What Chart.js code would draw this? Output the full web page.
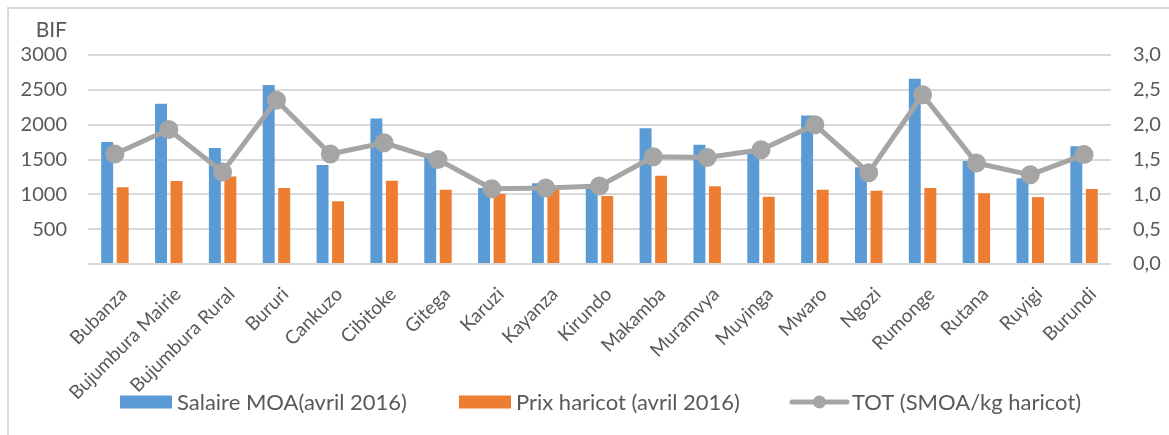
<!DOCTYPE html>
<html>
<head>
<meta charset="utf-8">
<script src="https://cdn.jsdelivr.net/npm/chart.js"></script>
<style>
  html, body { margin: 0; padding: 0; background: #fff; }
  #wrap { position: relative; width: 1169px; height: 435px; }
  #frame { position: absolute; left: 7px; top: 7px; right: 0; bottom: 0;
           border-left: 2px solid #d9d9d9; border-top: 2px solid #d9d9d9; }
  canvas { position: absolute; left: 0; top: 0; }
</style>
</head>
<body>
<div id="wrap">
  <div id="frame"></div>
  <canvas id="chart" width="1169" height="435"></canvas>
</div>
<script>
// Provinces du Burundi + moyenne nationale
const provinces = ['Bubanza', 'Bujumbura Mairie', 'Bujumbura Rural', 'Bururi', 'Cankuzo', 'Cibitoke',
    'Gitega', 'Karuzi', 'Kayanza', 'Kirundo', 'Makamba', 'Muramvya', 'Muyinga', 'Mwaro', 'Ngozi',
    'Rumonge', 'Rutana', 'Ruyigi', 'Burundi'];

// Salaire journalier main d'oeuvre agricole (BIF)
const salaireMOA = [1750, 2300, 1665, 2570, 1420, 2090, 1585, 1090, 1160, 1100, 1950, 1710, 1590, 2130, 1390, 2660, 1480, 1230, 1690];

// Prix du kg de haricot (BIF)
const prixHaricot = [1100, 1190, 1255, 1090, 900, 1195, 1065, 1005, 1065, 975, 1265, 1115, 965, 1065, 1050, 1090, 1015, 960, 1075];

// Termes de l'echange: kg de haricot par journee de travail
const termesEchange = [1.58, 1.93, 1.32, 2.35, 1.58, 1.74, 1.50, 1.08, 1.09, 1.12, 1.54, 1.53, 1.64, 2.00, 1.31, 2.43, 1.45, 1.28, 1.57];

const leftTicks = [0, 500, 1000, 1500, 2000, 2500, 3000];
const rightTicks = [0, 0.5, 1, 1.5, 2, 2.5, 3];
const unitLabel = 'BIF';

const textColor = '#595959';
const gridColor = '#d9d9d9';

Chart.defaults.font.family = 'Lato, "Open Sans", sans-serif';
Chart.defaults.color = textColor;

// unite + legende dessinees a la main (style Excel)
const extras = {
    id: 'extras',
    afterDraw(chart) {
        const ctx = chart.ctx;
        const yScale = chart.scales.y;
        ctx.save();
        ctx.font = '21px Lato';
        ctx.fillStyle = textColor;
        ctx.textAlign = 'right';
        ctx.textBaseline = 'middle';
        ctx.fillText(unitLabel, yScale.right - 21, 30);

        let x = 120;
        const cy = 402;
        ctx.font = '22px Lato';
        ctx.textAlign = 'left';
        chart.data.datasets.forEach(ds => {
            if (ds.type === 'line') {
                ctx.strokeStyle = ds.borderColor;
                ctx.lineWidth = 5;
                ctx.lineCap = 'round';
                ctx.beginPath();
                ctx.moveTo(x, cy);
                ctx.lineTo(x + 55, cy);
                ctx.stroke();
                ctx.fillStyle = ds.pointBackgroundColor;
                ctx.beginPath();
                ctx.arc(x + 27.5, cy, 6.5, 0, Math.PI * 2);
                ctx.fill();
                x += 55;
            } else {
                ctx.fillStyle = ds.backgroundColor;
                ctx.fillRect(x, cy - 6.5, 52, 13);
                x += 52;
            }
            x += 5;
            ctx.fillStyle = textColor;
            ctx.fillText(ds.label, x, cy + 1);
            x += ctx.measureText(ds.label).width + 52;
        });
        ctx.restore();
    }
};

new Chart(document.getElementById('chart'), {
    data: {
        labels: provinces,
        datasets: [
            {
                type: 'bar',
                label: 'Salaire MOA(avril 2016)',
                data: salaireMOA,
                backgroundColor: '#5b9bd5',
                categoryPercentage: 0.576,
                barPercentage: 0.77,
                yAxisID: 'y',
                order: 1
            },
            {
                type: 'bar',
                label: 'Prix haricot (avril 2016)',
                data: prixHaricot,
                backgroundColor: '#ed7d31',
                categoryPercentage: 0.576,
                barPercentage: 0.77,
                yAxisID: 'y',
                order: 2
            },
            {
                type: 'line',
                label: 'TOT (SMOA/kg haricot)',
                data: termesEchange,
                borderColor: '#a5a5a5',
                borderWidth: 5,
                pointBackgroundColor: '#a5a5a5',
                pointBorderColor: '#a5a5a5',
                pointRadius: 7,
                tension: 0,
                yAxisID: 'y1',
                order: 0
            }
        ]
    },
    options: {
        responsive: false,
        animation: false,
        layout: { padding: { top: 55, left: 0, right: 0, bottom: 31 } },
        plugins: {
            legend: { display: false },
            tooltip: { enabled: false }
        },
        scales: {
            x: {
                grid: { display: false },
                border: { display: false },
                ticks: {
                    font: { size: 19 },
                    maxRotation: 45,
                    minRotation: 45,
                    padding: 11,
                    labelOffset: 9,
                    autoSkip: false
                },
                afterFit(scale) { scale.height = 140; }
            },
            y: {
                position: 'left',
                min: leftTicks[0],
                max: leftTicks[leftTicks.length - 1],
                afterBuildTicks(scale) { scale.ticks = leftTicks.map(v => ({ value: v })); },
                grid: { color: gridColor, lineWidth: 2, drawTicks: false },
                border: { display: false },
                ticks: {
                    font: { size: 20 },
                    padding: 21,
                    callback: v => (v === 0 ? '' : v)
                },
                afterFit(scale) { scale.width = 88; }
            },
            y1: {
                position: 'right',
                min: rightTicks[0],
                max: rightTicks[rightTicks.length - 1],
                afterBuildTicks(scale) { scale.ticks = rightTicks.map(v => ({ value: v })); },
                grid: { display: false, drawTicks: false },
                border: { display: false },
                ticks: {
                    font: { size: 20 },
                    padding: 22,
                    callback: v => v.toFixed(1).replace('.', ',')
                },
                afterFit(scale) { scale.width = 58; }
            }
        }
    },
    plugins: [extras]
});
</script>
</body>
</html>
